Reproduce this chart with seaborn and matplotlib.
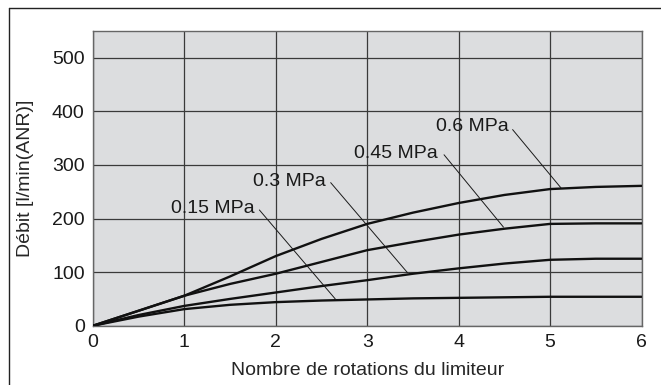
import matplotlib
matplotlib.use("Agg")
import matplotlib.pyplot as plt
import seaborn as sns
import pandas as pd
from matplotlib.lines import Line2D

# Values
rotations = [0, 0.5, 1, 1.5, 2, 2.5, 3, 3.5, 4, 4.5, 5, 5.5, 6]
flow_060 = [0, 28, 56, 92, 130, 162, 190, 211, 229, 244, 255, 259, 261]
flow_045 = [0, 28, 56, 78, 97, 119, 141, 156, 170, 181, 190, 191, 191]
flow_030 = [0, 20, 37, 50, 62, 74, 85, 97, 107, 116, 123, 125, 125]
flow_015 = [0, 17, 31, 39, 44, 47, 49, 51, 52, 53, 54, 54, 54]
pressures = ["0.6 MPa", "0.45 MPa", "0.3 MPa", "0.15 MPa"]

# label text position (left x, center y) and leader line (start, end)
label_pos = [(3.75, 371), (2.86, 322), (1.75, 269), (0.85, 219)]
leader_start = [(4.59, 366), (3.84, 319), (2.60, 267), (1.82, 216)]
leader_end = [(5.12, 257), (4.49, 184), (3.44, 99), (2.65, 50)]

df = pd.concat([
    pd.DataFrame({"rot": rotations, "flow": f, "p": p})
    for f, p in zip([flow_060, flow_045, flow_030, flow_015], pressures)
])

sns.set_style("ticks")
plt.rcParams["font.family"] = ["Liberation Sans", "DejaVu Sans"]
fs = 14

fig = plt.figure(figsize=(6.61, 3.85), dpi=100)
ax = fig.add_axes([0.1407, 0.154, 0.8298, 0.7655])
ax.set_facecolor("#dcdddf")

sns.lineplot(data=df, x="rot", y="flow", hue="p", palette=["#111111"] * 4,
             linewidth=1.7, legend=False, ax=ax, zorder=3)

ax.set_xlim(0, 6)
ax.set_ylim(0, 550)
ax.set_xticks(range(0, 7))
ax.set_yticks(range(0, 600, 100))
ax.grid(True, color="#3a3a3a", linewidth=0.9)
ax.set_axisbelow(True)
for s in ax.spines.values():
    s.set_color("#666666")
    s.set_linewidth(1.0)
ax.tick_params(length=0, labelsize=fs, pad=6, colors="#1a1a1a")

ax.set_xlabel("Nombre de rotations du limiteur", fontsize=fs, labelpad=8)
ax.set_ylabel("Débit [l/min(ANR)]", fontsize=fs, labelpad=13)

for p, (tx, ty), (sx, sy), (ex, ey) in zip(pressures, label_pos, leader_start, leader_end):
    ax.text(tx, ty, p, fontsize=fs, va="center", ha="left", color="#1a1a1a", zorder=4)
    ax.plot([sx, ex], [sy, ey], color="#1a1a1a", linewidth=0.7, zorder=4)

# outer frame (top and left only)
fig.add_artist(Line2D([0.0136, 1.0], [0.978, 0.978], color="#222222", linewidth=1.0))
fig.add_artist(Line2D([0.0136, 0.0136], [0.0, 0.978], color="#222222", linewidth=1.0))

fig.savefig("out.png", dpi=100)
